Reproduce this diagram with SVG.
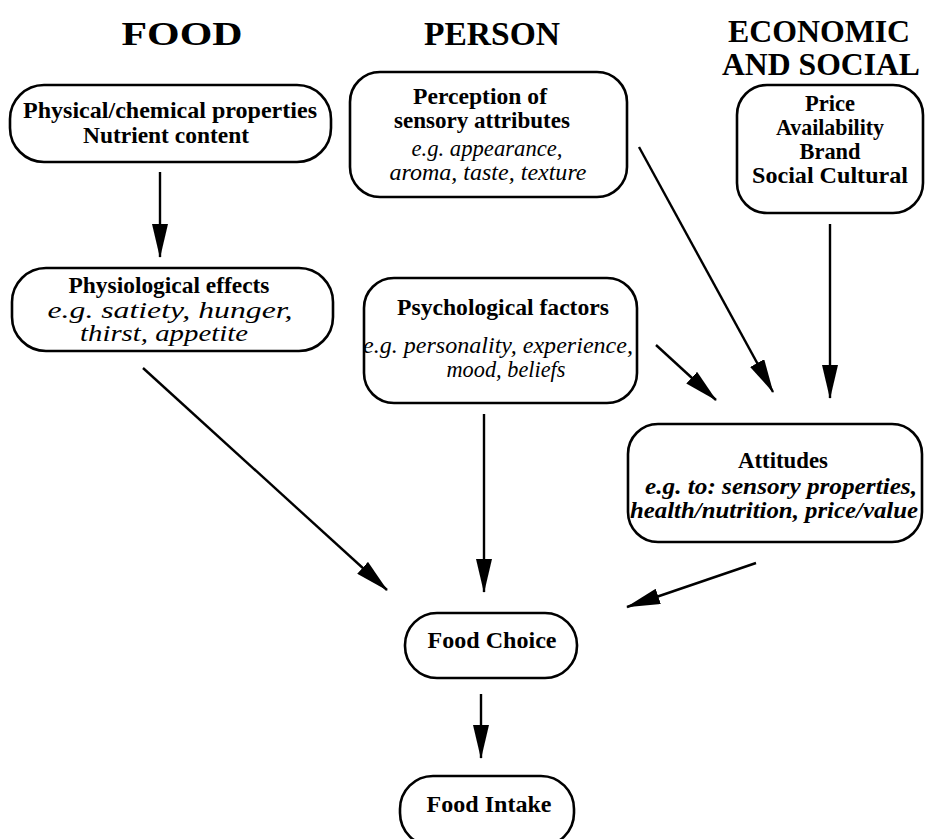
<svg xmlns="http://www.w3.org/2000/svg" width="927" height="839" viewBox="0 0 927 839">
  <style>
    .box { fill: #fff; stroke: #000; stroke-width: 2.6; }
    .hd { font-family: "Liberation Serif", "Times New Roman", serif; font-weight: bold; font-size: 34px; text-anchor: middle; }
    .hd2 { font-family: "Liberation Serif", "Times New Roman", serif; font-weight: bold; font-size: 32px; text-anchor: middle; }
    .b { font-family: "Liberation Serif", "Times New Roman", serif; font-weight: bold; font-size: 23px; text-anchor: middle; }
    .i { font-family: "Liberation Serif", "Times New Roman", serif; font-style: italic; font-size: 23px; text-anchor: middle; }
    .bi { font-family: "Liberation Serif", "Times New Roman", serif; font-style: italic; font-weight: bold; font-size: 23px; text-anchor: middle; }
    .conn { stroke: #000; stroke-width: 2.4; fill: none; marker-end: url(#head); }
  </style>
  <defs>
    <marker id="head" viewBox="0 0 34 16" refX="33" refY="8" markerWidth="34" markerHeight="16" markerUnits="userSpaceOnUse" orient="auto">
      <path d="M0,0 L34,8 L0,16 z" fill="#000"/>
    </marker>
  </defs>
  <rect width="927" height="839" fill="#fff"/>

  <!-- column headings -->
  <g id="headings">
    <text class="hd" x="182" y="45" textLength="121" lengthAdjust="spacingAndGlyphs">FOOD</text>
    <text class="hd" x="492" y="45" textLength="136" lengthAdjust="spacingAndGlyphs">PERSON</text>
    <text class="hd2" x="819" y="42" textLength="182" lengthAdjust="spacingAndGlyphs">ECONOMIC</text>
    <text class="hd2" x="821" y="75" textLength="198" lengthAdjust="spacingAndGlyphs">AND SOCIAL</text>
  </g>

  <g id="physical">
    <rect class="box" x="10" y="85" width="321" height="77" rx="34"/>
    <text class="b" x="170" y="118" textLength="294" lengthAdjust="spacingAndGlyphs">Physical/chemical properties</text>
    <text class="b" x="166" y="143" textLength="166" lengthAdjust="spacingAndGlyphs">Nutrient content</text>
  </g>

  <g id="perception">
    <rect class="box" x="350" y="72" width="277" height="125" rx="30"/>
    <text class="b" x="480" y="104" textLength="134" lengthAdjust="spacingAndGlyphs">Perception of</text>
    <text class="b" x="482" y="128" textLength="176" lengthAdjust="spacingAndGlyphs">sensory attributes</text>
    <text class="i" x="487" y="156" textLength="151" lengthAdjust="spacingAndGlyphs">e.g. appearance,</text>
    <text class="i" x="488" y="180" textLength="197" lengthAdjust="spacingAndGlyphs">aroma, taste, texture</text>
  </g>

  <g id="economic">
    <rect class="box" x="737" y="85" width="186" height="128" rx="30"/>
    <text class="b" x="830" y="111" textLength="50" lengthAdjust="spacingAndGlyphs">Price</text>
    <text class="b" x="830" y="135" textLength="108" lengthAdjust="spacingAndGlyphs">Availability</text>
    <text class="b" x="830" y="159" textLength="61" lengthAdjust="spacingAndGlyphs">Brand</text>
    <text class="b" x="830" y="183" textLength="156" lengthAdjust="spacingAndGlyphs">Social Cultural</text>
  </g>

  <g id="physiological">
    <rect class="box" x="12" y="268" width="321" height="83" rx="34"/>
    <text class="b" x="169" y="293" textLength="201" lengthAdjust="spacingAndGlyphs">Physiological effects</text>
    <text class="i" x="170" y="318" textLength="245" lengthAdjust="spacingAndGlyphs">e.g. satiety, hunger,</text>
    <text class="i" x="164" y="341" textLength="168" lengthAdjust="spacingAndGlyphs">thirst, appetite</text>
  </g>

  <g id="psychological">
    <rect class="box" x="364" y="278" width="273" height="125" rx="30"/>
    <text class="b" x="503" y="315" textLength="212" lengthAdjust="spacingAndGlyphs">Psychological factors</text>
    <text class="i" x="498" y="353" textLength="270" lengthAdjust="spacingAndGlyphs">e.g. personality, experience,</text>
    <text class="i" x="506" y="377" textLength="119" lengthAdjust="spacingAndGlyphs">mood, beliefs</text>
  </g>

  <g id="attitudes">
    <rect class="box" x="628" y="424" width="294" height="118" rx="30"/>
    <text class="b" x="783" y="468" textLength="90" lengthAdjust="spacingAndGlyphs">Attitudes</text>
    <text class="bi" x="781" y="494" textLength="272" lengthAdjust="spacingAndGlyphs">e.g. to: sensory properties,</text>
    <text class="bi" x="774" y="518" textLength="288" lengthAdjust="spacingAndGlyphs">health/nutrition, price/value</text>
  </g>

  <g id="food-choice">
    <rect class="box" x="405" y="613" width="172" height="65" rx="32"/>
    <text class="b" x="492" y="648" textLength="129" lengthAdjust="spacingAndGlyphs">Food Choice</text>
  </g>

  <g id="food-intake">
    <rect class="box" x="400" y="776" width="174" height="70" rx="33"/>
    <text class="b" x="489" y="812" textLength="125" lengthAdjust="spacingAndGlyphs">Food Intake</text>
  </g>

  <!-- connectors -->
  <g id="connectors">
    <line class="conn" x1="160" y1="172" x2="160" y2="257"/>
    <line class="conn" x1="639" y1="147" x2="773" y2="392"/>
    <line class="conn" x1="830" y1="224" x2="830" y2="398"/>
    <line class="conn" x1="656" y1="345" x2="716" y2="400"/>
    <line class="conn" x1="143" y1="368" x2="387" y2="590"/>
    <line class="conn" x1="484" y1="414" x2="484" y2="592"/>
    <line class="conn" x1="756" y1="563" x2="627" y2="607"/>
    <line class="conn" x1="481" y1="694" x2="481" y2="758"/>
  </g>
</svg>
